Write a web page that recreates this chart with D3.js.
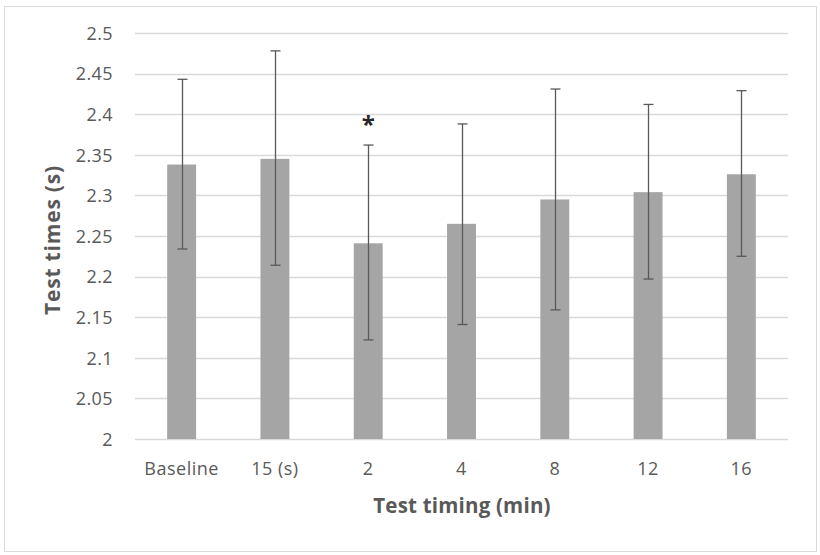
<!DOCTYPE html>
<html>
<head>
<meta charset="utf-8">
<script src="https://cdn.jsdelivr.net/npm/d3@7"></script>
<style>
  html, body { margin: 0; padding: 0; background: #fff; }
  svg { display: block; }
</style>
</head>
<body>
<svg id="chart" width="820" height="555"></svg>
<script>
const categories = ["Baseline", "15 (s)", "2", "4", "8", "12", "16"];
const means      = [2.338, 2.345, 2.241, 2.265, 2.295, 2.304, 2.326];
const errUpper   = [2.443, 2.478, 2.362, 2.388, 2.431, 2.412, 2.429];
const errLower   = [2.234, 2.214, 2.122, 2.141, 2.159, 2.197, 2.225];
const significant = ["2"];
const yTicks = [2, 2.05, 2.1, 2.15, 2.2, 2.25, 2.3, 2.35, 2.4, 2.45, 2.5];
const xTitle = "Test timing (min)";
const yTitle = "Test times (s)";

const svg = d3.select("#chart");
const font = "'Open Sans', sans-serif";
const textColor = "#595959";

// outer border
svg.append("rect")
  .attr("x", 4.5).attr("y", 6.5).attr("width", 812).attr("height", 545)
  .attr("fill", "#fff").attr("stroke", "#d9d9d9").attr("stroke-width", 1);

const plot = { left: 135, right: 788, top: 33, bottom: 439 };

const x = d3.scaleBand().domain(categories).range([plot.left, plot.right]).paddingInner(0.69).paddingOuter(0.345);
const y = d3.scaleLinear().domain([2, 2.5]).range([plot.bottom, plot.top]);

// gridlines
svg.append("g").selectAll("line").data(yTicks).join("line")
  .attr("x1", plot.left).attr("x2", plot.right)
  .attr("y1", d => Math.round(y(d)) + 0.5).attr("y2", d => Math.round(y(d)) + 0.5)
  .attr("stroke", "#d9d9d9").attr("stroke-width", 1.3);

// y axis labels
const yAxis = d3.axisLeft(y).tickValues(yTicks).tickSize(0).tickPadding(0).tickFormat(d => String(+d.toFixed(2)));
const gy = svg.append("g").attr("transform", `translate(${plot.left - 22},0)`).call(yAxis);
gy.select(".domain").remove();
gy.selectAll("text").attr("fill", textColor).style("font-family", font).style("font-size", "18px")
  .style("letter-spacing", "0.4px").attr("dy", "0.35em");

// bars
svg.append("g").selectAll("rect").data(categories).join("rect")
  .attr("x", d => x(d)).attr("width", x.bandwidth())
  .attr("y", (d, i) => y(means[i])).attr("height", (d, i) => y(2) - y(means[i]))
  .attr("fill", "#a5a5a5");

// error bars
const eb = svg.append("g").attr("stroke", "#595959").attr("stroke-width", 1.3);
categories.forEach((c, i) => {
  const cx = Math.round(x(c) + x.bandwidth() / 2) + 0.5;
  eb.append("line").attr("x1", cx).attr("x2", cx).attr("y1", y(errUpper[i])).attr("y2", y(errLower[i]));
  eb.append("line").attr("x1", cx - 5).attr("x2", cx + 5).attr("y1", y(errUpper[i])).attr("y2", y(errUpper[i]));
  eb.append("line").attr("x1", cx - 5).attr("x2", cx + 5).attr("y1", y(errLower[i])).attr("y2", y(errLower[i]));
});

// significance marker
svg.append("g").selectAll("text").data(significant).join("text")
  .attr("x", d => x(d) + x.bandwidth() / 2)
  .attr("y", d => y(errUpper[categories.indexOf(d)]) - 12)
  .attr("text-anchor", "middle")
  .attr("fill", "#262626").style("font-family", font).style("font-weight", "bold").style("font-size", "24px")
  .text("*");

// x axis labels
const xAxis = d3.axisBottom(x).tickSize(0).tickPadding(0);
const gx = svg.append("g").attr("transform", `translate(0,${plot.bottom + 36})`).call(xAxis);
gx.select(".domain").remove();
gx.selectAll("text").attr("fill", textColor).attr("dy", 0).style("font-family", font).style("font-size", "18px")
  .style("letter-spacing", "0.5px");

// axis titles
svg.append("text").attr("x", 462).attr("y", 513).attr("text-anchor", "middle")
  .attr("fill", textColor).style("font-family", font).style("font-weight", "bold").style("font-size", "20.5px")
  .style("letter-spacing", "0.2px")
  .text(xTitle);
svg.append("text").attr("transform", "translate(60,240) rotate(-90)").attr("text-anchor", "middle")
  .attr("fill", textColor).style("font-family", font).style("font-weight", "bold").style("font-size", "21px")
  .style("letter-spacing", "0.8px")
  .text(yTitle);
</script>
</body>
</html>
